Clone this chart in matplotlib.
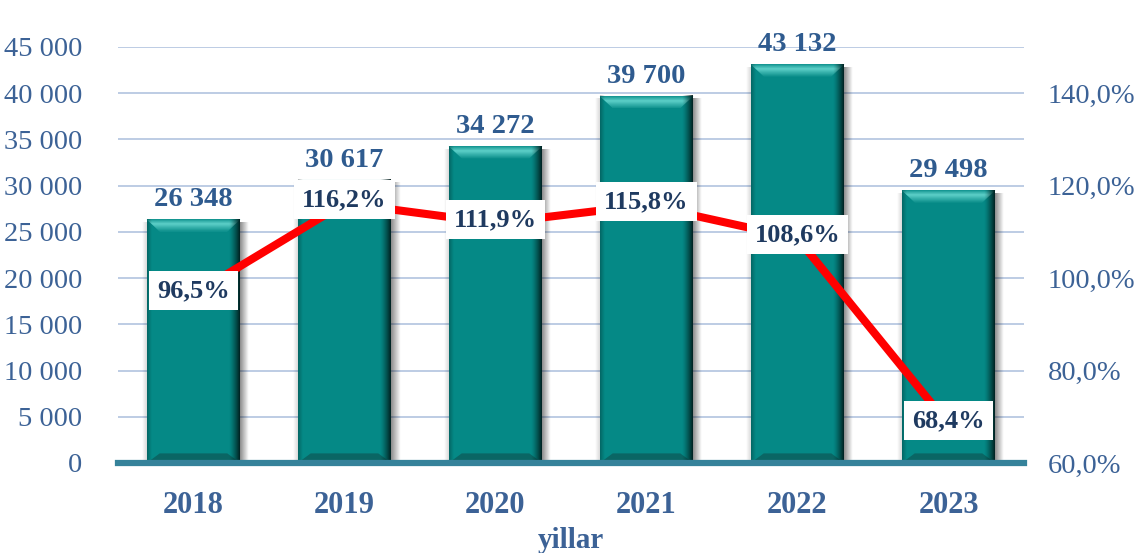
import numpy as np
import matplotlib
matplotlib.use("Agg")
import matplotlib.pyplot as plt
from matplotlib.patches import Polygon
from matplotlib.ticker import FuncFormatter

years = ["2018", "2019", "2020", "2021", "2022", "2023"]
values = [26348, 30617, 34272, 39700, 43132, 29498]
growth = [96.5, 116.2, 111.9, 115.8, 108.6, 68.4]
value_labels = ["26 348", "30 617", "34 272", "39 700", "43 132", "29 498"]
growth_labels = ["96,5%", "116,2%", "111,9%", "115,8%", "108,6%", "68,4%"]
left_ticks = [0, 5000, 10000, 15000, 20000, 25000, 30000, 35000, 40000, 45000]
right_ticks = [60, 80, 100, 120, 140]
xlabel = "yillar"

plt.rcParams['font.family'] = ['Liberation Serif', 'DejaVu Serif']

W, H = 1140, 553
fig = plt.figure(figsize=(W / 100, H / 100), dpi=100)
ax = fig.add_axes([118 / W, (553 - 463) / H, (1024 - 118) / W, (463 - 47) / H])
ax2 = ax.twinx()

ax.set_xlim(-0.5, len(years) - 0.5)
ax.set_ylim(0, 45000)
ax2.set_ylim(60, 150)

tick_col = "#3C6296"
lab_col = "#2F5B8F"
pct_col = "#1F3A60"

# grid
ax.set_yticks(left_ticks)
ax.yaxis.set_major_formatter(FuncFormatter(lambda v, p: f"{int(v):,}".replace(",", " ")))
ax.grid(axis='y', color="#B8C8E2", linewidth=1.3, zorder=0)
ax.set_axisbelow(True)
for s in ax.spines.values():
    s.set_visible(False)
for s in ax2.spines.values():
    s.set_visible(False)
ax.tick_params(axis='y', length=0, labelsize=20.5, labelcolor=tick_col, pad=26)
ax.tick_params(axis='x', length=0, labelsize=22, labelcolor=tick_col, pad=20)
ax2.set_yticks(right_ticks)
ax2.yaxis.set_major_formatter(FuncFormatter(lambda v, p: f"{v:.1f}%".replace(".", ",")))
ax2.tick_params(axis='y', length=0, labelsize=20.5, labelcolor=tick_col, pad=17)

x = np.arange(len(years))
bars = ax.bar(x, values, width=0.62, color="#058986", zorder=2)
ax.set_xticks(x)
ax.set_xticklabels(years, fontweight='bold')

# pixel -> data conversion
px_x = 1.0 / 151.0
px_y = 45000 / 416.0

for b in bars:
    x0, w, h = b.get_x(), b.get_width(), b.get_height()
    # soft outside shadow on right
    sh = np.zeros((1, 20, 4))
    sh[..., 3] = np.linspace(0.45, 0.0, 20)
    ax.imshow(sh, extent=[x0 + w, x0 + w + 9 * px_x, 0, h - 3 * px_y], aspect='auto', zorder=1.5, interpolation='bilinear')
    sl = np.zeros((1, 20, 4))
    sl[..., 3] = np.linspace(0.0, 0.15, 20)
    ax.imshow(sl, extent=[x0 - 5 * px_x, x0, 0, h - 3 * px_y], aspect='auto', zorder=1.5, interpolation='bilinear')
    dx, dy = 13 * px_x, 12 * px_y
    # top bevel (vertical gradient clipped to trapezoid)
    top = Polygon([(x0, h), (x0 + w, h), (x0 + w - dx, h - dy), (x0 + dx, h - dy)],
                  closed=True, color="#1E9E99", lw=0, zorder=2.2)
    ax.add_patch(top)
    tg = np.zeros((20, 1, 4))
    c1 = np.array([0x14, 0x95, 0x91]) / 255
    c2 = np.array([0x5A, 0xCD, 0xC6]) / 255
    prof = np.concatenate([np.linspace(0, 1, 8), np.linspace(1, 0, 12)])
    for i in range(20):
        tg[i, 0, :3] = c1 + (c2 - c1) * prof[i]
        tg[i, 0, 3] = 1.0
    im = ax.imshow(tg, extent=[x0, x0 + w, h - dy, h], aspect='auto', zorder=2.3,
                   interpolation='bilinear', origin='upper')
    im.set_clip_path(top)
    # bottom bevel
    bot = Polygon([(x0, 0), (x0 + w, 0), (x0 + w - dx, dy * 0.8), (x0 + dx, dy * 0.8)],
                  closed=True, color="#0A6664", lw=0, zorder=2.2)
    ax.add_patch(bot)
    # right dark edge gradient
    g = np.zeros((1, 30, 4))
    g[..., 1] = 0.1
    g[..., 2] = 0.1
    g[..., 3] = np.linspace(0.0, 0.95, 30) ** 1.3
    ax.imshow(g, extent=[x0 + w - 11 * px_x, x0 + w, 0, h], aspect='auto', zorder=2.4, interpolation='bilinear')
    # left subtle edge
    gl = np.zeros((1, 20, 4))
    gl[..., 3] = np.linspace(0.25, 0.0, 20)
    ax.imshow(gl, extent=[x0, x0 + 5 * px_x, 0, h], aspect='auto', zorder=2.4, interpolation='bilinear')

ax.set_xlim(-0.5, len(years) - 0.5)
ax.set_ylim(0, 45000)

# baseline
ax.axhline(0, color="#35829A", linewidth=4.5, zorder=3, clip_on=False)

# value labels
for xi, v, lab in zip(x, values, value_labels):
    ax.text(xi, v + 7 * px_y, lab, ha='center', va='bottom', fontsize=20.5, fontweight='bold',
            color=lab_col, zorder=5)

# line
ax2.plot(x, growth, color="#FF0000", linewidth=5.8, zorder=4, solid_capstyle='butt')
ax2.set_zorder(ax.get_zorder() + 1)
ax2.patch.set_visible(False)
for xi, gv, lab in zip(x, growth, growth_labels):
    ax2.text(xi, gv + 0.8, lab, ha='center', va='center', fontsize=19, fontweight='bold',
             color=pct_col, zorder=6,
             bbox=dict(boxstyle='square,pad=0.3', fc='white', ec='none'))

fig.text((118 + 1024) / 2 / W, 1 - 541 / H, xlabel, ha='center', va='center', fontsize=21,
         fontweight='bold', color=tick_col)

fig.savefig("out.png", dpi=100)
